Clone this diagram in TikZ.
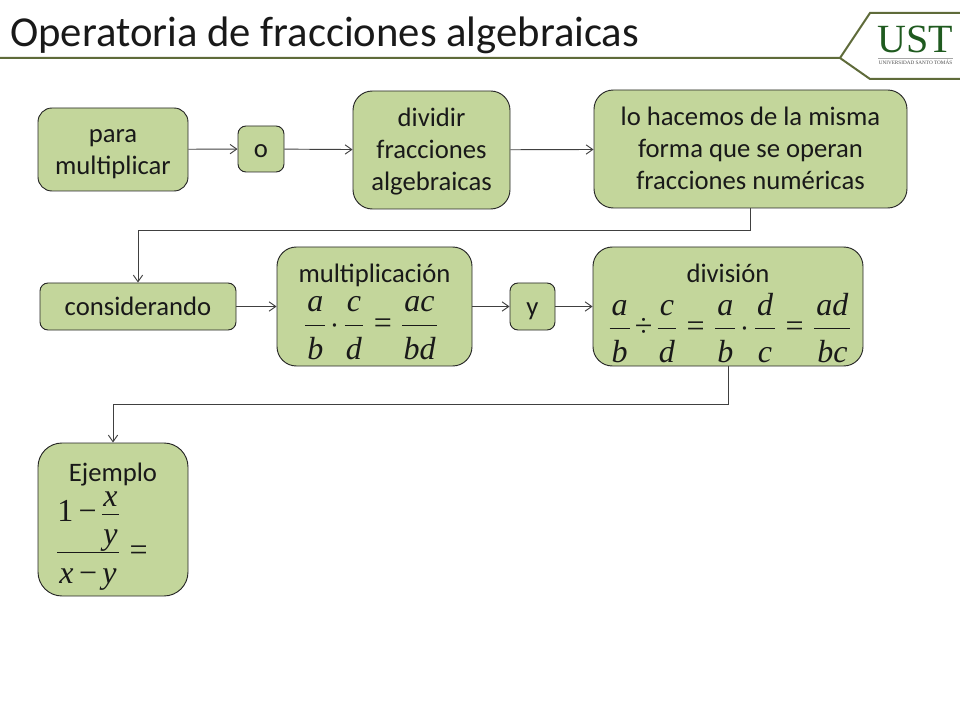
\documentclass[tikz,border=0pt]{standalone}
\usepackage{amsmath}
\usepackage{fix-cm}
\usepackage{fontspec}
\setmainfont{Carlito}
\newfontfamily\timesfont{Liberation Serif}
\usetikzlibrary{positioning, arrows.meta}
\definecolor{boxgreen}{HTML}{C3D69B}
\definecolor{logoline}{HTML}{5F6B3A}
\definecolor{logogreen}{HTML}{1F5A1F}
\newcommand{\mathsize}{\fontsize{24}{30}\selectfont\nulldelimiterspace=0pt\thickmuskip=6mu\medmuskip=3mu}
\newcommand{\vr}[1]{\text{\timesfont\itshape #1}}
\newcommand{\eqs}{\mathrel{\text{\timesfont =}}}
\newcommand{\dvs}{\mathbin{\text{\timesfont ÷}}}
\newcommand{\mns}{\mathbin{\text{\timesfont −}}}
\newcommand{\frc}[2]{\genfrac{}{}{0.45pt}{0}{\hspace{1.5pt}#1\hspace{1.5pt}\rule[-5pt]{0pt}{0pt}}{\rule{0pt}{24pt}#2}}
\newcommand{\lh}{\rule[-5pt]{0pt}{23.5pt}}

\begin{document}
\begin{tikzpicture}[x=0.75pt, y=-0.75pt,
    box/.style={draw=black!85, fill=boxgreen, line width=0.7pt, align=center, inner sep=0pt,
        font=\fontsize{20}{24}\selectfont, text=black!90},
    word/.style={inner sep=0pt, anchor=base, font=\fontsize{20}{24}\selectfont, text=black!90},
    formula/.style={inner sep=0pt, font=\mathsize, text=black!90},
    link/.style={-{Straight Barb[length=5pt,width=7pt]}, black!75, line width=0.7pt}]
    \useasboundingbox (0,0) rectangle (960,720);

    % Header
    \node[anchor=base west, inner sep=0pt, font=\fontsize{32}{36}\selectfont, text=black!90] (title) at (10,47) {Operatoria de fracciones algebraicas};
    \coordinate (hstart) at (0,58);
    \coordinate (hapex) at (840,58);
    \coordinate (htop) at (870,13);
    \coordinate (hbot) at (870,79);
    \draw[logoline, line width=1.5pt] (hstart) -- (hapex) -- (htop) -- (960,13);
    \draw[logoline, line width=1.5pt] (hapex) -- (hbot) -- (960,79);
    \node[anchor=base, inner sep=0pt, font=\timesfont\fontsize{30}{30}\selectfont, text=logogreen] (ust) at (915.5,53) {UST};
    \node[anchor=base, inner sep=0pt, font=\timesfont\fontsize{3.9}{4}\selectfont, text=black!70] (univ) at (915.5,65) {UNIVERSIDAD SANTO TOMÁS};
    \coordinate (rulea) at (878,58);
    \coordinate (ruleb) at (953,58);
    \draw[black!35, line width=0.4pt] (rulea) -- (ruleb);

    % First row
    \node[box, minimum width=112.5pt, minimum height=62.25pt, rounded corners=10.5pt] (para) at (113,149.5) {\lh para\\multiplicar\rule[-5pt]{0pt}{0pt}};
    \node[box, minimum width=34.5pt, minimum height=34.5pt, rounded corners=6pt] (o) at (261,149) {\lh o};
    \node[box, minimum width=117.75pt, minimum height=88.5pt, rounded corners=14.5pt] (dividir) at (431.5,150) {\lh dividir\\fracciones\\algebraicas\rule[-5pt]{0pt}{0pt}};
    \node[box, minimum width=234.75pt, minimum height=88.5pt, rounded corners=14.5pt] (hacemos) at (750.5,149) {\lh lo hacemos de la misma\\forma que se operan\\fracciones numéricas\rule[-5pt]{0pt}{0pt}};
    \draw[link] (para) -- (o);
    \draw[link] (o) -- (dividir);
    \draw[link] (dividir) -- (hacemos);

    % Second row
    \node[box, minimum width=147pt, minimum height=35.25pt, rounded corners=6pt] (cons) at (138,306.5) {\lh considerando};
    \node[box, minimum width=146.25pt, minimum height=89.25pt, rounded corners=14.5pt] (mult) at (374.5,306.5) {};
    \node[word] (multname) at (374.5,282) {multiplicación};
    \node[formula] (multform) at (371,328) {$\frc{\vr{a}}{\vr{b}}\cdot\frc{\vr{c}}{\vr{d}}\eqs\frc{\vr{ac}}{\vr{bd}}$};
    \node[box, minimum width=33.75pt, minimum height=35.25pt, rounded corners=6pt] (y) at (532.5,306.5) {\lh y};
    \node[box, minimum width=202.5pt, minimum height=89.25pt, rounded corners=14.5pt] (divi) at (728,306.5) {};
    \node[word] (diviname) at (728,283) {división};
    \node[formula] (diviform) at (730,328) {$\frc{\vr{a}}{\vr{b}}\dvs\frc{\vr{c}}{\vr{d}}\eqs\frc{\vr{a}}{\vr{b}}\cdot\frc{\vr{d}}{\vr{c}}\eqs\frc{\vr{ad}}{\vr{bc}}$};
    \draw[link] (hacemos.south) -- ++(0,22) -| (cons.north);
    \draw[link] (cons) -- (mult);
    \draw[link] (mult) -- (y);
    \draw[link] (y) -- (divi);

    % Example
    \node[box, minimum width=112.5pt, minimum height=114.75pt, rounded corners=18pt] (ejem) at (113,519.5) {};
    \node[word] (ejemname) at (113,481) {Ejemplo};
    \node[formula, anchor=west] (ejemform) at (57,538) {$\genfrac{}{}{0.45pt}{0}{\raisebox{0pt}[\height][21pt]{$\displaystyle\text{\timesfont 1}\mns\genfrac{}{}{0.45pt}{0}{\raisebox{-5pt}[\height][0pt]{\hspace{1pt}\vr{x}\hspace{1pt}}}{\rule{0pt}{21pt}\vr{y}}$}}{\rule{0pt}{22pt}\vr{x}\mns\vr{y}}\eqs$};
    \draw[link] (divi.south) -- ++(0,38) -| (ejem.north);
\end{tikzpicture}
\end{document}
